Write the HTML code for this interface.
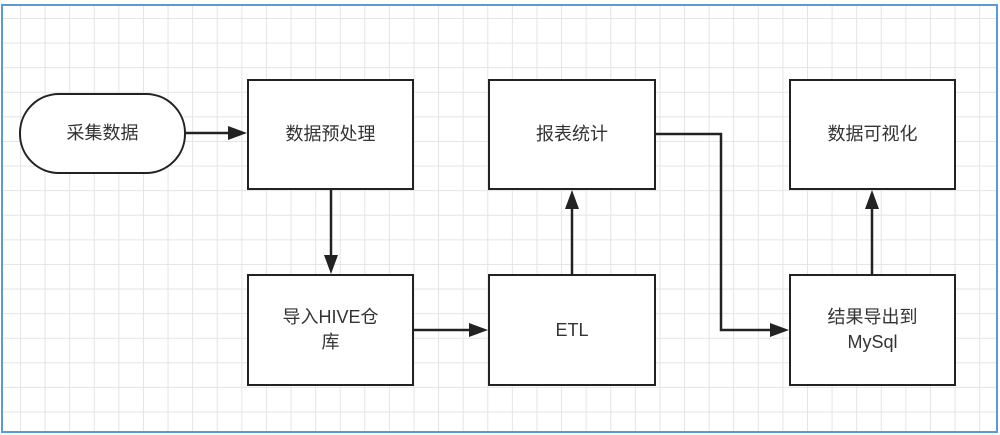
<!DOCTYPE html>
<html><head><meta charset="utf-8"><style>
html,body{margin:0;padding:0;background:#fff;}
body{width:1000px;height:435px;position:relative;overflow:hidden;font-family:"Liberation Sans","Noto Sans CJK SC",sans-serif;}
.frame{position:absolute;left:1px;top:4px;width:993px;height:425px;border:2px solid #5b9bd5;
background-image:linear-gradient(#e4e4e4 1px,transparent 1px),linear-gradient(90deg,#e4e4e4 1px,transparent 1px);
background-size:24.6px 24.6px;background-position:17px 12px;}
.b{position:absolute;border:2.5px solid #222;background:#fff;box-sizing:border-box;display:flex;align-items:center;justify-content:center;text-align:center;color:#333;font-size:18px;line-height:25px;}
</style></head><body>
<div class="frame"></div>
<div class="b" style="left:19px;top:93px;width:167px;height:81px;border-radius:40px;">采集数据</div>
<div class="b" style="left:247px;top:79px;width:167px;height:111px;">数据预处理</div>
<div class="b" style="left:488px;top:79px;width:168px;height:111px;">报表统计</div>
<div class="b" style="left:789px;top:79px;width:167px;height:111px;">数据可视化</div>
<div class="b" style="left:247px;top:274px;width:167px;height:112px;">导入HIVE仓<br>库</div>
<div class="b" style="left:488px;top:274px;width:168px;height:112px;">ETL</div>
<div class="b" style="left:789px;top:274px;width:167px;height:112px;">结果导出到<br>MySql</div>
<svg width="1000" height="435" style="position:absolute;left:0;top:0" fill="none" stroke="#222" stroke-width="2.5">
<path d="M186 133H232"/><polygon points="247,133 228,126 228,140" fill="#222" stroke="none"/>
<path d="M331 190V259"/><polygon points="331,274 324,255 338,255" fill="#222" stroke="none"/>
<path d="M414 330H473"/><polygon points="488,330 469,323 469,337" fill="#222" stroke="none"/>
<path d="M572 274V205"/><polygon points="572,190 565,209 579,209" fill="#222" stroke="none"/>
<path d="M656 134H721V330H774"/><polygon points="789,330 770,323 770,337" fill="#222" stroke="none"/>
<path d="M872 274V205"/><polygon points="872,190 865,209 879,209" fill="#222" stroke="none"/>
</svg>
</body></html>
